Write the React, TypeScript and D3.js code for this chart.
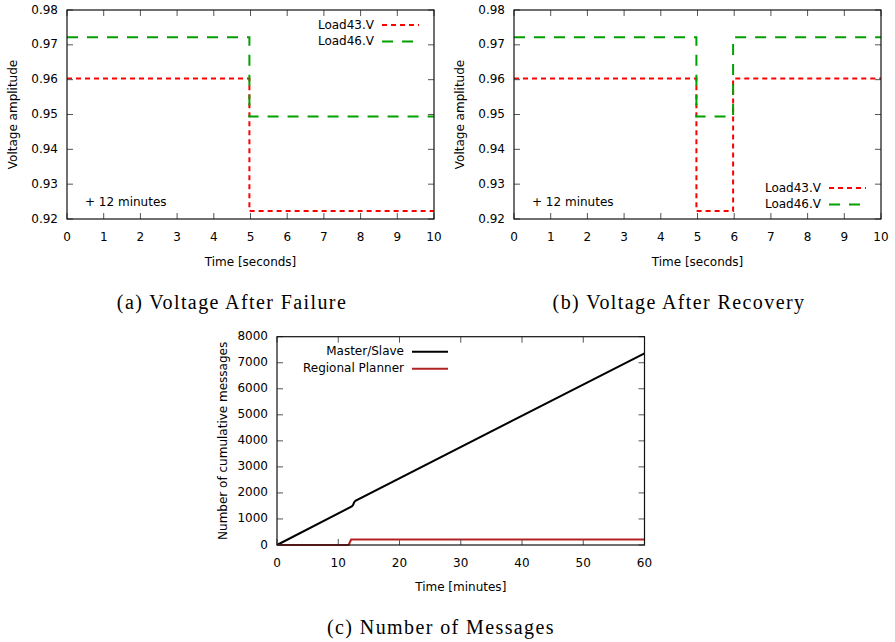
import React, { useEffect, useRef } from 'react';
import * as d3 from 'd3';

// Voltage plots (time in seconds after the 12 minute mark)
const secondTicks = [0, 1, 2, 3, 4, 5, 6, 7, 8, 9, 10];
const voltageTicks = [0.92, 0.93, 0.94, 0.95, 0.96, 0.97, 0.98];

const failureTime = [0, 4.97, 10];
const failureLoad43 = [0.9603, 0.9223, 0.9223];
const failureLoad46 = [0.9722, 0.9494, 0.9494];

const recoveryTime = [0, 4.97, 5.97, 10];
const recoveryLoad43 = [0.9603, 0.9223, 0.9603, 0.9603];
const recoveryLoad46 = [0.9722, 0.9494, 0.9722, 0.9722];

// Message plot
const minuteTicks = [0, 10, 20, 30, 40, 50, 60];
const messageTicks = [0, 1000, 2000, 3000, 4000, 5000, 6000, 7000, 8000];

const masterMinutes = [0, 12.2, 12.4, 12.6, 12.8, 60];
const masterCount = [0, 1480, 1530, 1640, 1700, 7360];
const plannerMinutes = [0, 11.7, 12.1, 60];
const plannerCount = [0, 0, 210, 210];

const FONT = 'DejaVu Sans';
const RED = '#ff0000';
const GREEN = '#00a000';

const App = () => {
  const svgRef = useRef(null);

  useEffect(() => {
    const svg = d3.select(svgRef.current);
    svg.selectAll('*').remove();

    // frame with inward ticks on all four sides (gnuplot style)
    const drawFrame = (g, x, y, xTicks, yTicks, fmtY) => {
      const [x0, x1] = x.range();
      const [y0, y1] = y.range();
      const tick = 6;
      xTicks.forEach(t => {
        g.append('line').attr('x1', x(t)).attr('x2', x(t)).attr('y1', y0).attr('y2', y0 - tick)
          .attr('stroke', '#555').attr('stroke-width', 1);
        g.append('line').attr('x1', x(t)).attr('x2', x(t)).attr('y1', y1).attr('y2', y1 + tick)
          .attr('stroke', '#555').attr('stroke-width', 1);
        g.append('text').attr('x', x(t)).attr('y', y0 + 18)
          .attr('text-anchor', 'middle').attr('dominant-baseline', 'middle')
          .attr('font-family', FONT).attr('font-size', 12).attr('fill', '#000')
          .text(t);
      });
      yTicks.forEach(t => {
        g.append('line').attr('x1', x0).attr('x2', x0 + tick).attr('y1', y(t)).attr('y2', y(t))
          .attr('stroke', '#555').attr('stroke-width', 1);
        g.append('line').attr('x1', x1).attr('x2', x1 - tick).attr('y1', y(t)).attr('y2', y(t))
          .attr('stroke', '#555').attr('stroke-width', 1);
        g.append('text').attr('x', x0 - 9).attr('y', y(t))
          .attr('text-anchor', 'end').attr('dominant-baseline', 'middle')
          .attr('font-family', FONT).attr('font-size', 12).attr('fill', '#000')
          .text(fmtY(t));
      });
      g.append('rect').attr('x', x0).attr('y', y1).attr('width', x1 - x0).attr('height', y0 - y1)
        .attr('fill', 'none').attr('stroke', '#111').attr('stroke-width', 1.2);
    };

    const legendRow = (g, textEnd, x1, x2, cy, label, color, dash) => {
      g.append('text').attr('x', textEnd).attr('y', cy)
        .attr('text-anchor', 'end').attr('dominant-baseline', 'middle')
        .attr('font-family', FONT).attr('font-size', 12).attr('fill', '#000')
        .text(label);
      g.append('line').attr('x1', x1).attr('x2', x2).attr('y1', cy).attr('y2', cy)
        .attr('stroke', color).attr('stroke-width', 2)
        .attr('stroke-dasharray', dash);
    };

    const caption = (cx, baseline, label) => {
      svg.append('text').attr('x', cx).attr('y', baseline)
        .attr('text-anchor', 'middle')
        .attr('font-family', 'Liberation Serif').attr('font-size', 20)
        .attr('letter-spacing', 1.4)
        .text(label);
    };

    const drawVoltage = (left, times, load43, load46, legendAtBottom, label) => {
      const right = left + 367;
      const top = 10;
      const bottom = 219;
      const x = d3.scaleLinear().domain([0, 10]).range([left, right]);
      const y = d3.scaleLinear().domain([0.92, 0.98]).range([bottom, top]);
      const g = svg.append('g');

      const line = d3.line()
        .x(d => x(d[0]))
        .y(d => y(d[1]))
        .curve(d3.curveStepAfter);

      g.append('path')
        .datum(times.map((t, i) => [t, load43[i]]))
        .attr('d', line).attr('fill', 'none')
        .attr('stroke', RED).attr('stroke-width', 2).attr('stroke-dasharray', '5,4');
      g.append('path')
        .datum(times.map((t, i) => [t, load46[i]]))
        .attr('d', line).attr('fill', 'none')
        .attr('stroke', GREEN).attr('stroke-width', 2).attr('stroke-dasharray', '11,9');

      drawFrame(g, x, y, secondTicks, voltageTicks, d3.format('.2f'));

      g.append('text').attr('x', left + 18).attr('y', 202)
        .attr('dominant-baseline', 'middle')
        .attr('font-family', FONT).attr('font-size', 12).text('+ 12 minutes');

      const r1 = legendAtBottom ? bottom - 31 : top + 15;
      const r2 = r1 + 16.5;
      legendRow(g, right - 60, right - 52, right - 15, r1, 'Load43.V', RED, '5,4');
      legendRow(g, right - 60, right - 52, right - 15, r2, 'Load46.V', GREEN, '11,9');

      g.append('text').attr('x', (left + right) / 2).attr('y', 262)
        .attr('text-anchor', 'middle').attr('dominant-baseline', 'middle')
        .attr('font-family', FONT).attr('font-size', 12).text('Time [seconds]');
      g.append('text')
        .attr('transform', `translate(${left - 54},${(top + bottom) / 2}) rotate(-90)`)
        .attr('text-anchor', 'middle').attr('dominant-baseline', 'middle')
        .attr('font-family', FONT).attr('font-size', 12).text('Voltage amplitude');

      caption(left + 165, 309, label);
    };

    drawVoltage(67, failureTime, failureLoad43, failureLoad46, false, '(a) Voltage After Failure');
    drawVoltage(514, recoveryTime, recoveryLoad43, recoveryLoad46, true, '(b) Voltage After Recovery');

    // Number of messages
    const left = 277;
    const right = 644.5;
    const top = 336.7;
    const bottom = 545;
    const x = d3.scaleLinear().domain([0, 60]).range([left, right]);
    const y = d3.scaleLinear().domain([0, 8000]).range([bottom, top]);
    const g = svg.append('g');

    const line = d3.line()
      .x(d => x(d[0]))
      .y(d => y(d[1]));

    g.append('path')
      .datum(masterMinutes.map((t, i) => [t, masterCount[i]]))
      .attr('d', line).attr('fill', 'none')
      .attr('stroke', '#000').attr('stroke-width', 2);
    g.append('path')
      .datum(plannerMinutes.map((t, i) => [t, plannerCount[i]]))
      .attr('d', line).attr('fill', 'none')
      .attr('stroke', '#b22222').attr('stroke-width', 2);

    drawFrame(g, x, y, minuteTicks, messageTicks, d => d);

    legendRow(g, left + 127, left + 135, left + 171, top + 15, 'Master/Slave', '#000', null);
    legendRow(g, left + 127, left + 135, left + 171, top + 32, 'Regional Planner', '#b22222', null);

    g.append('text').attr('x', (left + right) / 2).attr('y', 587)
      .attr('text-anchor', 'middle').attr('dominant-baseline', 'middle')
      .attr('font-family', FONT).attr('font-size', 12).text('Time [minutes]');
    g.append('text')
      .attr('transform', `translate(${left - 54},${(top + bottom) / 2}) rotate(-90)`)
      .attr('text-anchor', 'middle').attr('dominant-baseline', 'middle')
      .attr('font-family', FONT).attr('font-size', 12).text('Number of cumulative messages');

    caption(441, 634, '(c) Number of Messages');
  }, []);

  return (
    <svg ref={svgRef} width={895} height={642} viewBox="0 0 895 642"
      style={{ position: 'absolute', left: 0, top: 0, background: 'white' }} />
  );
};

export default App;
